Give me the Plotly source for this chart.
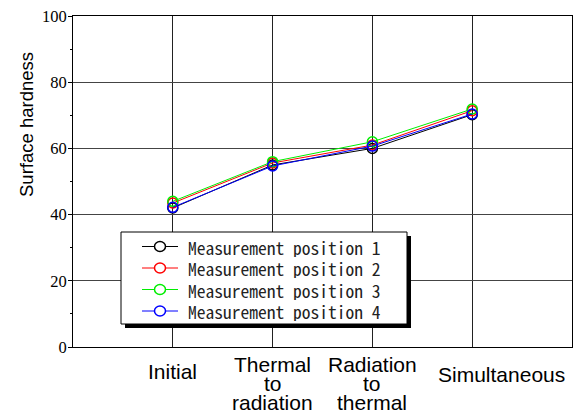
import plotly.graph_objects as go

categories = ["Initial", "Thermal\nto\nradiation", "Radiation\nto\nthermal", "Simultaneous"]
x_pos = [0, 1, 2, 3]
pos1 = [42.0, 55.0, 60.0, 70.2]
pos2 = [43.5, 55.6, 61.0, 71.4]
pos3 = [44.0, 56.0, 62.0, 71.9]
pos4 = [42.2, 54.7, 60.7, 70.4]
names = ["Measurement position 1", "Measurement position 2", "Measurement position 3", "Measurement position 4"]
colors = ["#000000", "#ff0000", "#00ee00", "#0000ff"]
y_ticks = [0, 20, 40, 60, 80, 100]

W, H = 573, 414
L, R, T, B = 73, 1, 16, 67
PW, PH = W - L - R, H - T - B

def px_x(p):
    return (p - L) / PW

def px_y(p):
    return (H - B - p) / PH

fig = go.Figure()
for vals, name, col in zip([pos1, pos2, pos3, pos4], names, colors):
    fig.add_trace(go.Scatter(
        x=x_pos, y=vals, name=name, mode="lines+markers",
        line=dict(color=col, width=1),
        marker=dict(symbol="circle-open", size=10, color=col, line=dict(width=1.5, color=col)),
    ))

fig.update_layout(
    width=W, height=H,
    margin=dict(l=L, r=R, t=T, b=B),
    plot_bgcolor="white", paper_bgcolor="white",
    showlegend=False,
    xaxis=dict(
        range=[-1, 4], tickmode="array", tickvals=x_pos, ticktext=[""] * len(x_pos),
        showgrid=True, gridcolor="#222", gridwidth=1,
        showline=True, linecolor="black", linewidth=1, mirror=True,
        ticks="", zeroline=False,
    ),
    yaxis=dict(
        range=[0, 100], tickmode="array", tickvals=y_ticks,
        showgrid=True, gridcolor="#444", gridwidth=1,
        showline=True, linecolor="black", linewidth=1, mirror=True,
        ticks="outside", ticklen=4, tickcolor="black", zeroline=False,
        ticklabelstandoff=-2,
        minor=dict(tickvals=[10, 30, 50, 70, 90], ticks="outside", ticklen=2, tickcolor="black", showgrid=False),
        tickfont=dict(family="Liberation Serif", size=16.5, color="black"),
    ),
)

# y-axis title (placed high like the reference)
fig.add_annotation(text="Surface hardness", xref="paper", yref="paper",
                   x=px_x(26), y=px_y(125), xanchor="center", yanchor="middle",
                   textangle=-90, showarrow=False,
                   font=dict(family="Liberation Sans", size=18.5, color="black"))

# category labels, one annotation per line for tight leading
line_step = 19
label_base = [371, 364, 364, 374]
label_shift = [0, 0, 0, 29]
for xp, lab, base, xs in zip(x_pos, categories, label_base, label_shift):
    for i, ln in enumerate(lab.split("\n")):
        fig.add_annotation(text=ln, xref="x", yref="paper", x=xp, y=px_y(base + i * line_step),
                           xanchor="center", yanchor="middle", showarrow=False, xshift=xs,
                           height=18, valign="middle",
                           font=dict(family="Liberation Sans", size=21, color="black"))

# legend box with drop shadow (drawn manually for exact spacing)
fig.add_shape(type="rect", xref="paper", yref="paper",
              x0=px_x(125), x1=px_x(411), y0=px_y(328), y1=px_y(236),
              fillcolor="black", line=dict(width=0), layer="above")
fig.add_shape(type="rect", xref="paper", yref="paper",
              x0=px_x(121), x1=px_x(407), y0=px_y(324), y1=px_y(232),
              fillcolor="white", line=dict(color="black", width=1), layer="above")
row0, row_step = 246.5, 21.5
for i, (name, col) in enumerate(zip(names, colors)):
    yy = px_y(row0 + i * row_step)
    fig.add_shape(type="line", xref="paper", yref="paper",
                  x0=px_x(142), x1=px_x(178), y0=yy, y1=yy,
                  line=dict(color=col, width=1), layer="above")
    fig.add_shape(type="circle", xref="paper", yref="paper",
                  xsizemode="pixel", ysizemode="pixel",
                  xanchor=px_x(160), yanchor=yy, x0=-5.5, x1=5.5, y0=-5, y1=5,
                  fillcolor="white", line=dict(color=col, width=1.5), layer="above")
    fig.add_annotation(text=name, xref="paper", yref="paper",
                       x=px_x(186), y=yy, xanchor="left", yanchor="middle",
                       showarrow=False, height=20, valign="middle",
                       font=dict(family="Noto Sans Mono CJK JP, DejaVu Sans Mono", size=17.5, color="#222"))

fig.write_html("out.html")
